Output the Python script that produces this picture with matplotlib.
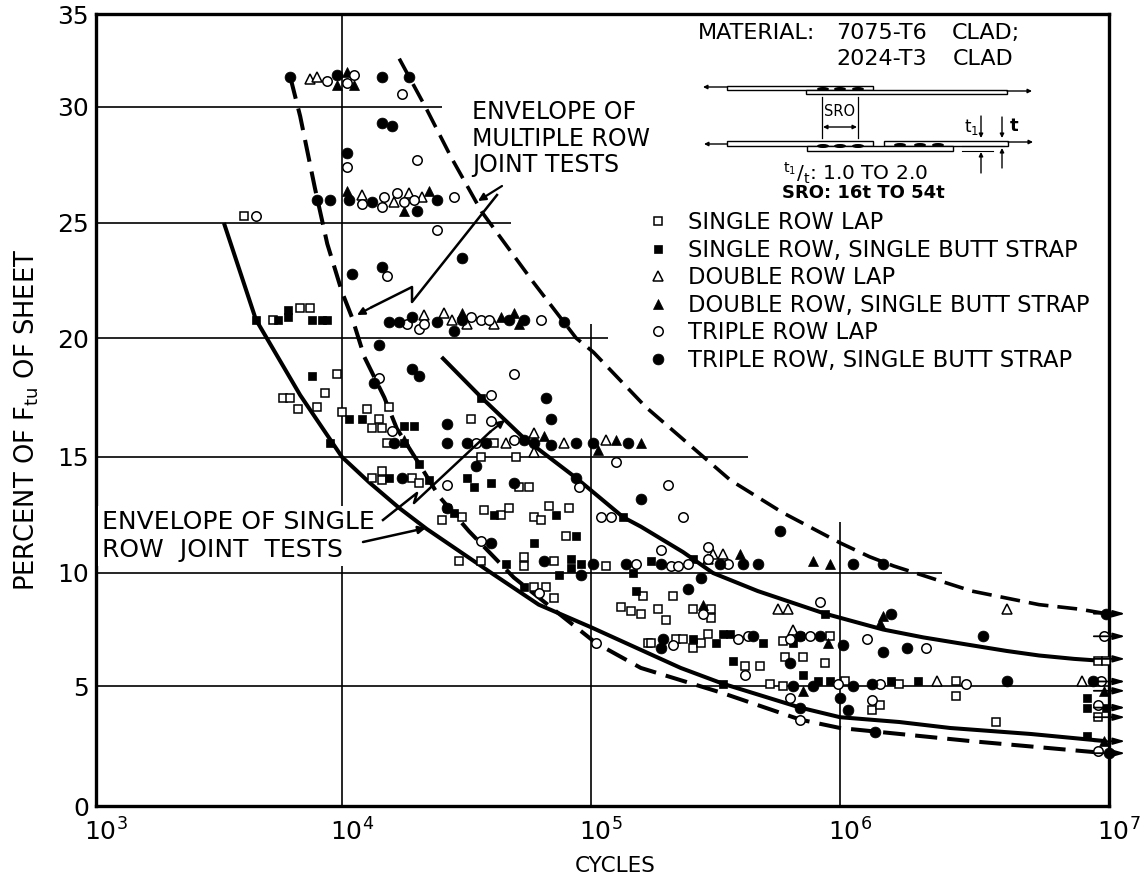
import numpy as np
import matplotlib
matplotlib.use("Agg")
import matplotlib.pyplot as plt
from matplotlib.lines import Line2D
from matplotlib.patches import Ellipse, Rectangle
from matplotlib.transforms import ScaledTranslation

# log10(cycles) and percent of Ftu
single_lap_exp = [3.60, 3.72, 3.83, 3.87, 3.98, 3.76, 3.79, 3.93, 3.82, 3.90, 4.00, 4.10, 4.19, 4.15, 4.12, 4.16, 4.18,
                  4.52, 4.61, 4.56, 4.70, 4.12, 4.16, 4.16, 4.28, 4.31, 4.71, 4.75, 4.40, 4.48, 4.57, 4.64, 4.67, 4.83,
                  4.77, 4.80, 4.91, 4.90, 4.73, 4.73, 4.85, 5.06, 4.47, 4.56, 4.77, 4.82, 4.85, 5.12, 5.16, 5.20, 5.21,
                  5.23, 5.33, 5.27, 5.30, 5.41, 5.48, 5.48, 5.24, 5.34, 5.37, 5.41, 5.44, 5.47, 5.77, 5.96, 5.62, 5.68,
                  5.78, 5.85, 5.94, 5.72, 5.77, 6.02, 6.22, 6.43, 6.43, 6.12, 6.15, 6.58, 6.96, 6.99, 6.96]
single_lap_pct = [25.3, 20.8, 21.3, 21.3, 18.5, 17.5, 17.5, 17.7, 17.0, 17.1, 16.9, 17.0, 17.1, 16.6, 16.2, 16.2, 15.6,
                  16.6, 15.6, 15.0, 15.0, 14.1, 14.4, 14.0, 14.1, 13.9, 13.7, 13.7, 12.3, 12.4, 12.7, 12.5, 12.8, 12.9,
                  12.4, 12.3, 12.8, 11.6, 10.7, 10.3, 10.5, 10.3, 10.5, 10.5, 9.4, 9.4, 8.9, 8.5, 8.3, 8.2, 9.0,
                  6.9, 9.0, 8.4, 7.9, 8.4, 8.4, 8.0, 6.9, 7.1, 7.1, 6.7, 6.9, 7.3, 7.0, 7.2, 5.9, 5.9,
                  6.3, 6.3, 6.0, 5.1, 5.0, 5.2, 5.1, 5.2, 4.6, 4.0, 4.2, 3.5, 6.1, 6.1, 3.7]

single_butt_exp = [3.65, 3.74, 3.78, 3.78, 3.88, 3.92, 3.94, 3.88, 3.95, 4.03, 4.08, 4.25, 4.29, 4.25, 4.31, 4.19, 4.35,
                   4.50, 4.53, 4.60, 4.42, 4.45, 4.61, 4.86, 4.94, 4.77, 4.66, 4.92, 4.92, 4.96, 4.87, 5.17, 5.18, 4.56,
                   5.13, 4.73, 5.24, 5.41, 5.94, 5.41, 5.50, 5.53, 5.56, 5.69, 5.81, 5.84, 5.57, 5.85, 5.53, 5.91, 5.96,
                   6.19, 6.29, 6.92, 6.92, 6.92, 6.99]
single_butt_pct = [20.8, 20.8, 20.9, 21.2, 20.8, 20.8, 20.8, 18.4, 15.6, 16.6, 16.6, 16.3, 16.3, 15.6, 14.7, 14.1, 14.0,
                   14.1, 13.7, 13.9, 12.8, 12.6, 12.5, 12.5, 11.6, 11.3, 10.4, 10.6, 10.2, 10.4, 9.9, 10.0, 9.2, 17.5,
                   12.4, 9.4, 10.5, 10.6, 8.2, 7.1, 6.9, 7.3, 7.3, 6.9, 6.9, 7.2, 6.1, 5.5, 5.1, 5.2, 5.2,
                   5.2, 5.2, 4.5, 4.1, 2.9, 4.1]

double_lap_exp = [3.87, 3.90, 4.08, 4.21, 4.27, 4.32, 4.33, 4.41, 4.44, 4.50, 4.61, 4.66, 4.77, 4.77, 4.89, 5.06, 5.47,
                  5.49, 5.53, 5.75, 5.79, 6.62, 5.81, 6.36, 6.90]
double_lap_pct = [31.5, 31.6, 26.2, 25.9, 26.3, 26.1, 21.0, 21.1, 20.8, 20.6, 20.6, 15.6, 16.0, 15.2, 15.6, 15.7, 10.6,
                  10.8, 10.8, 8.4, 8.4, 8.4, 7.5, 5.2, 5.2]

double_butt_exp = [3.98, 4.02, 4.05, 4.02, 4.25, 4.35, 4.48, 4.64, 4.69, 4.71, 4.25, 4.81, 5.03, 5.10, 5.20, 5.60, 5.89,
                   5.96, 5.45, 6.16, 6.15, 5.95, 6.98, 5.85, 6.98]
double_butt_pct = [31.2, 31.9, 31.2, 26.4, 25.5, 26.4, 21.1, 20.9, 21.1, 20.6, 15.7, 15.9, 15.3, 15.7, 15.6, 10.8, 10.5,
                   10.4, 8.6, 8.1, 7.8, 6.9, 4.8, 4.8, 2.7]

triple_lap_exp = [3.94, 4.02, 4.05, 4.24, 4.30, 4.02, 4.17, 4.22, 4.08, 4.16, 4.25, 4.29, 4.45, 4.38, 4.18, 3.65, 4.26,
                  4.31, 4.33, 4.52, 4.56, 4.59, 4.80, 4.15, 4.69, 4.60, 4.60, 4.20, 4.54, 4.69, 5.10, 4.42, 4.95, 5.04,
                  5.08, 4.56, 4.79, 5.02, 5.18, 5.31, 5.37, 5.28, 5.47, 5.47, 5.32, 5.35, 5.39, 5.55, 5.92, 5.45, 5.33,
                  5.59, 5.63, 5.80, 5.88, 6.10, 6.32, 5.62, 5.99, 6.15, 6.47, 6.97, 6.98, 6.96, 5.80, 6.12, 5.84, 6.96]
triple_lap_pct = [31.4, 31.3, 31.7, 30.7, 27.7, 27.4, 26.1, 26.3, 25.8, 25.7, 25.9, 26.0, 26.1, 24.7, 22.7, 25.3, 20.6,
                  20.4, 20.6, 20.9, 20.8, 20.8, 20.8, 18.3, 18.5, 17.6, 16.5, 16.1, 15.6, 15.7, 14.8, 13.8, 13.7, 12.4,
                  12.4, 11.4, 9.1, 6.9, 10.4, 13.8, 12.4, 11.0, 11.1, 10.6, 10.3, 10.3, 10.4, 10.4, 8.7, 8.2, 6.8,
                  7.1, 7.2, 7.1, 7.2, 7.1, 6.7, 5.5, 5.1, 5.1, 5.1, 5.2, 7.2, 4.2, 4.5, 4.4, 3.6, 2.3]

triple_butt_exp = [3.79, 3.98, 4.16, 4.27, 4.16, 4.20, 4.02, 3.90, 3.95, 4.03, 4.12, 4.38, 4.30, 4.48, 4.04, 4.16, 4.19,
                   4.23, 4.28, 4.38, 4.48, 4.67, 4.73, 4.89, 4.45, 4.15, 4.28, 4.31, 4.13, 4.82, 4.84, 4.42, 4.42, 4.50,
                   4.58, 4.73, 4.77, 4.84, 4.94, 5.01, 5.15, 4.54, 4.24, 4.69, 4.94, 5.20, 4.21, 4.42, 4.60, 4.81, 5.01,
                   5.14, 4.96, 5.76, 6.05, 6.16, 5.28, 5.61, 5.67, 5.44, 5.39, 5.52, 6.19, 6.53, 6.99, 5.29, 5.28, 5.65,
                   6.01, 6.16, 6.25, 5.80, 5.81, 5.89, 6.05, 6.12, 6.62, 6.94, 6.00, 6.03, 5.84, 6.13, 7.00, 5.84, 5.92]
triple_butt_pct = [31.6, 31.7, 31.6, 31.6, 29.3, 29.2, 28.0, 26.0, 26.0, 26.0, 25.9, 26.0, 25.5, 23.5, 22.8, 23.1, 20.7,
                   20.7, 20.9, 20.7, 20.8, 20.8, 20.8, 20.7, 20.3, 19.7, 18.7, 18.4, 18.1, 17.5, 16.6, 16.4, 15.6, 15.6,
                   15.6, 15.7, 15.6, 15.5, 15.6, 15.6, 15.6, 14.6, 14.1, 13.9, 14.1, 13.2, 15.6, 12.8, 11.3, 10.5, 10.4,
                   10.4, 9.9, 11.8, 10.4, 10.4, 10.4, 10.4, 10.4, 9.8, 9.3, 10.4, 8.2, 7.2, 8.2, 7.1, 6.7, 7.2,
                   6.8, 6.5, 6.7, 6.0, 5.0, 5.0, 5.0, 5.1, 5.2, 5.2, 4.5, 4.0, 4.1, 3.1, 2.2, 7.2, 7.2]

# envelope curves
single_upper_exp = [4.40, 4.56, 4.73, 4.94, 5.13, 5.20, 5.37, 5.49, 5.67, 5.94, 6.16, 6.31, 6.49, 6.62, 6.74, 6.87, 6.99]
single_upper_pct = [19.2, 17.5, 15.8, 14.1, 12.4, 12.0, 10.9, 10.0, 9.2, 8.2, 7.5, 7.15, 6.8, 6.55, 6.35, 6.2, 6.1]
single_lower_exp = [3.52, 3.65, 3.83, 4.00, 4.11, 4.23, 4.34, 4.60, 4.79, 5.00, 5.20, 5.36, 5.53, 5.84, 6.00, 6.22, 6.41,
                    6.71, 6.99]
single_lower_pct = [25.0, 20.8, 17.6, 15.0, 13.9, 12.8, 11.9, 10.0, 8.6, 7.6, 6.6, 5.8, 5.1, 4.1, 3.7, 3.5, 3.25,
                    3.0, 2.7]
multi_upper_exp = [4.23, 4.34, 4.44, 4.56, 4.77, 4.94, 5.01, 5.22, 5.56, 5.77, 6.00, 6.11, 6.20, 6.49, 6.74, 6.89, 6.99]
multi_upper_pct = [32.6, 29.9, 27.8, 25.5, 22.4, 20.0, 19.4, 17.1, 14.0, 12.6, 11.3, 10.7, 10.3, 9.2, 8.6, 8.4, 8.2]
multi_lower_exp = [3.79, 3.83, 3.89, 3.94, 4.00, 4.04, 4.09, 4.17, 4.22, 4.31, 4.39, 4.51, 4.69, 4.86, 5.02, 5.20,
                   5.53, 5.84, 6.00, 6.49, 6.99]
multi_lower_pct = [31.6, 29.6, 26.5, 24.1, 22.0, 20.9, 19.2, 17.5, 16.2, 14.7, 13.3, 11.8, 9.8, 8.3, 6.9, 5.8,
                   4.7, 3.6, 3.25, 2.7, 2.2]

# runouts at the right edge, percent of Ftu
runout_pct = [8.2, 7.2, 6.2, 5.2, 4.8, 4.1, 3.7, 2.7, 2.2]

# partial grid: level and where each line stops
hline_pct = [30, 25, 20, 15, 10, 5]
hline_end_exp = [4.40, 4.68, 5.07, 5.63, 6.38, 7.0]
vline_exp = [4, 5, 6]
vline_top_pct = [35, 20.6, 12.2]

xtick_exp = [3, 4, 5, 6, 7]
ytick_pct = [0, 5, 10, 15, 20, 25, 30, 35]

legend_labels = ["SINGLE ROW LAP", "SINGLE ROW, SINGLE BUTT STRAP", "DOUBLE ROW LAP",
                 "DOUBLE ROW, SINGLE BUTT STRAP", "TRIPLE ROW LAP", "TRIPLE ROW, SINGLE BUTT STRAP"]

W, H = 1141, 884
LEFT, RIGHT, TOP, BOTTOM = 96, 1109, 14, 806

# the printed grid is not evenly spaced, so the scales follow it
x_knots = np.array([0.0, 246.0, 495.0, 744.0, 1013.0]) / 1013.0
y_knots = np.array([806, 686, 573, 457, 338, 223, 107, 14], dtype=float)
y_knots = (806 - y_knots) / 792.0
x_decades = np.array(xtick_exp, dtype=float)
y_levels = np.array(ytick_pct, dtype=float)


def x_fwd(v):
    return np.interp(np.log10(np.clip(v, 1.0, None)), x_decades, x_knots)


def x_inv(v):
    return 10.0 ** np.interp(v, x_knots, x_decades)


def y_fwd(v):
    return np.interp(v, y_levels, y_knots)


def y_inv(v):
    return np.interp(v, y_knots, y_levels)


def cycles(exp):
    return 10.0 ** np.asarray(exp, dtype=float)


plt.rcParams['font.family'] = ['DejaVu Sans']

fig = plt.figure(figsize=(W / 100, H / 100), dpi=100)
ax = fig.add_axes([LEFT / W, 1 - BOTTOM / H, (RIGHT - LEFT) / W, (BOTTOM - TOP) / H])
ax.set_xscale('function', functions=(x_fwd, x_inv))
ax.set_yscale('function', functions=(y_fwd, y_inv))
ax.set_xlim(1e3, 1e7)
ax.set_ylim(0, 35)

ax.hlines(hline_pct, 1e3, cycles(hline_end_exp), color='black', lw=1.2, zorder=1)
ax.vlines(cycles(vline_exp), 0, vline_top_pct, color='black', lw=1.2, zorder=1)

for s in ax.spines.values():
    s.set_linewidth(2.4)

ax.set_xticks(cycles(xtick_exp))
ax.set_xticklabels([r"$\mathregular{10^{%d}}$" % e for e in xtick_exp], fontsize=18)
ax.set_yticks(ytick_pct)
ax.set_yticklabels([str(v) for v in ytick_pct], fontsize=18)
ax.minorticks_off()
ax.tick_params(axis='both', which='both', length=0)
ax.tick_params(axis='x', pad=9)
ax.tick_params(axis='y', pad=5)
# the printed exponents sit a little right of their grid lines
for lbl in ax.get_xticklabels():
    lbl.set_transform(lbl.get_transform() + ScaledTranslation(7 / 72, 0, fig.dpi_scale_trans))

# envelopes
ax.plot(cycles(single_upper_exp), single_upper_pct, color='black', lw=2.9, zorder=3, solid_capstyle='butt')
ax.plot(cycles(single_lower_exp), single_lower_pct, color='black', lw=2.9, zorder=3, solid_capstyle='butt')
ax.plot(cycles(multi_upper_exp), multi_upper_pct, color='black', lw=2.6, dashes=(5.5, 2.5), zorder=3)
ax.plot(cycles(multi_lower_exp), multi_lower_pct, color='black', lw=2.9, dashes=(5.5, 2.5), zorder=3)

# test points
open_kw = dict(mfc='white', mec='black', mew=1.1)
full_kw = dict(mfc='black', mec='black', mew=0.5)
series = [
    (single_lap_exp, single_lap_pct, dict(marker='s', ms=5.8, **open_kw)),
    (single_butt_exp, single_butt_pct, dict(marker='s', ms=6.0, **full_kw)),
    (double_lap_exp, double_lap_pct, dict(marker='^', ms=6.8, **open_kw)),
    (double_butt_exp, double_butt_pct, dict(marker='^', ms=7.2, **full_kw)),
    (triple_lap_exp, triple_lap_pct, dict(marker='o', ms=6.8, **open_kw)),
    (triple_butt_exp, triple_butt_pct, dict(marker='o', ms=7.8, **full_kw)),
]
handles = []
for xs, ys, style in series:
    ax.plot(cycles(xs), ys, ls='none', zorder=4, clip_on=False, **style)
    handles.append(Line2D([], [], ls='none', **style))

# runout arrows past the right edge
for pct in runout_pct:
    ax.annotate("", xy=(1.016, pct), xytext=(0.985, pct), xycoords=('axes fraction', 'data'),
                textcoords=('axes fraction', 'data'),
                arrowprops=dict(arrowstyle='-|>,head_length=0.7,head_width=0.2', color='black', lw=1.3,
                                shrinkA=0, shrinkB=0), zorder=5)

fig.legend(handles, legend_labels, loc='upper left', bbox_to_anchor=(647 / W, 1 - 211 / H), frameon=False,
           fontsize=16.3, borderpad=0, borderaxespad=0, labelspacing=0.2, handlelength=1.0, handletextpad=0.83)

# overlay in picture pixels for the notes and the joint sketch
ov = fig.add_axes([0, 0, 1, 1], zorder=10)
ov.set_xlim(0, W)
ov.set_ylim(H, 0)
ov.axis('off')
ov.patch.set_alpha(0)


def note(x, y, s, size=15, ha='left', **kw):
    ov.text(x, y, s, fontsize=size, ha=ha, va='center', color='black', **kw)


def arrow(x0, y0, x1, y1, lw=1.6, scale=11):
    ov.annotate("", xy=(x1, y1), xytext=(x0, y0),
                arrowprops=dict(arrowstyle='-|>', mutation_scale=scale, color='black', lw=lw, shrinkA=0, shrinkB=0))


ov.text(27, 420, r"PERCENT OF F$\mathregular{_{tu}}$ OF SHEET", rotation=90, fontsize=18.5, ha='center', va='center')
note(615, 866, "CYCLES", size=15.5, ha='center')

note(472, 112, "ENVELOPE OF", size=17)
note(472, 139, "MULTIPLE ROW", size=17)
note(472, 165, "JOINT TESTS", size=17)
note(102, 522, "ENVELOPE OF SINGLE", size=18, bbox=dict(fc='white', ec='none', pad=3))
note(102, 550, "ROW  JOINT  TESTS", size=18, bbox=dict(fc='white', ec='none', pad=3))

# zigzag leaders
arrow(502, 186, 478, 201)
ov.plot([497, 412, 412, 372], [195, 302, 287, 307], color='black', lw=1.8)
arrow(372, 307, 357, 315)
ov.plot([383, 417, 414, 490], [520, 493, 503, 432], color='black', lw=1.8)
arrow(490, 432, 505, 420)
arrow(363, 542, 426, 528, lw=1.8)

# material note and joint sketch
note(698, 33, "MATERIAL:", size=16)
note(836, 33, "7075-T6", size=16)
note(952, 33, "CLAD;", size=16)
note(836, 59, "2024-T3", size=16)
note(953, 59, "CLAD", size=16)
note(783, 173, r"$\mathregular{^{t_1}/_t}$: 1.0 TO 2.0", size=14.5)
note(782, 193, "SRO: 16t TO 54t", size=13, fontweight='bold')

for x0, y0, x1, y1 in [(727, 86, 873, 90), (806, 89.5, 1007, 94), (727, 141, 873, 146), (884, 141, 1008, 146),
                       (807, 146, 953, 151)]:
    ov.add_patch(Rectangle((x0, y0), x1 - x0, y1 - y0, fc='white', ec='black', lw=1.0))
for x, y in [(823, 89), (840, 89), (858, 89), (823, 146), (840, 146), (858, 146), (900, 145), (920, 145), (938, 145)]:
    ov.add_patch(Ellipse((x, y), 12, 4, fc='black', ec='none', zorder=3))
for x0, y0, x1, y1 in [(727, 87, 703, 87), (1007, 91, 1032, 91), (727, 144, 704, 144), (1008, 142, 1033, 142),
                       (981, 116, 981, 138), (981, 173, 981, 152), (1002, 117, 1002, 138), (1002, 168, 1002, 148)]:
    arrow(x0, y0, x1, y1, lw=1.0, scale=6)
ov.plot([822, 822], [97, 138], color='black', lw=0.9)
ov.plot([858, 858], [97, 138], color='black', lw=0.9)
ov.annotate("", xy=(823, 127), xytext=(857, 127), arrowprops=dict(arrowstyle='<|-|>', mutation_scale=6, color='black',
                                                                   lw=1.0, shrinkA=0, shrinkB=0))
ov.plot([962, 1004], [146, 146], color='black', lw=0.8)
ov.plot([962, 993], [151, 151], color='black', lw=0.8)
note(840, 112, "SRO", size=10.5, ha='center')
note(964, 127, r"$\mathregular{t_1}$", size=12, ha='left')
note(1010, 126, "t", size=13, ha='left', fontweight='bold')

fig.savefig("out.png", dpi=100)
plt.close(fig)
